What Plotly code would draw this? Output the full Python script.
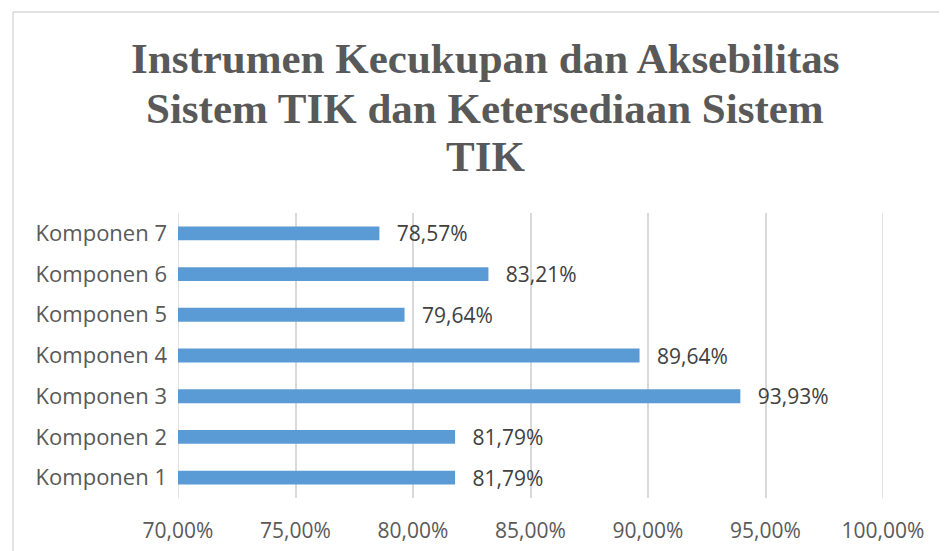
import plotly.graph_objects as go

categories = ["Komponen 1", "Komponen 2", "Komponen 3", "Komponen 4", "Komponen 5", "Komponen 6", "Komponen 7"]
values = [0.8179, 0.8179, 0.9393, 0.8964, 0.7964, 0.8321, 0.7857]
x_ticks = [0.70, 0.75, 0.80, 0.85, 0.90, 0.95, 1.00]
title_lines = ["Instrumen Kecukupan dan Aksebilitas", "Sistem TIK dan Ketersediaan Sistem", "TIK"]

# page has an 8px body margin; figure coords = page coords - 8
W, H = 939, 543
ml, mr, mt, mb = 170, 64, 205, 53
pw, ph = W - ml - mr, H - mt - mb

fig = go.Figure()
fig.add_trace(go.Bar(
    y=categories, x=values, orientation="h",
    marker=dict(color="#5b9bd5", line=dict(width=0)),
    texttemplate="\u00a0\u00a0\u2009%{x:.2%}", textposition="outside",
    constraintext="none",
    textfont=dict(family="Open Sans", size=21, color="#404040"),
    cliponaxis=False,
))

def px_x(px):
    return (px - ml) / pw

def px_y(py):
    return (H - mb - py) / ph

title_tops = [25, 75, 123]
annotations = [
    dict(text=t, showarrow=False, xref="paper", yref="paper",
         x=px_x(477), y=px_y(yt), xanchor="center", yanchor="top",
         font=dict(family="Liberation Serif", size=43, color="#595959", weight="bold"))
    for t, yt in zip(title_lines, title_tops)
]

grid_color = "#d9d9d9"
shapes = [
    dict(type="line", xref="paper", yref="paper",
         x0=px_x(5), x1=px_x(5), y0=px_y(4), y1=px_y(600),
         line=dict(color=grid_color, width=1.5)),
    dict(type="line", xref="paper", yref="paper",
         x0=px_x(5), x1=px_x(1000), y0=px_y(4), y1=px_y(4),
         line=dict(color=grid_color, width=1.5)),
]
# edge gridlines (70% and 100%) which plotly omits at the range boundary
for xv in (x_ticks[0], x_ticks[-1]):
    shapes.append(dict(type="line", xref="x", yref="paper", layer="below",
                       x0=xv, x1=xv, y0=0, y1=1,
                       line=dict(color=grid_color, width=1.5)))

fig.update_layout(
    width=W, height=H,
    margin=dict(l=ml, r=mr, t=mt, b=mb, autoexpand=False),
    paper_bgcolor="white", plot_bgcolor="white",
    separators=", ",
    bargap=0.66,
    showlegend=False,
    xaxis=dict(
        range=[x_ticks[0], x_ticks[-1]], tickvals=x_ticks, tickformat=".2%",
        showgrid=True, gridcolor=grid_color, gridwidth=1.5,
        zeroline=False, showline=False, ticks="",
        tickfont=dict(family="Open Sans", size=21, color="#595959"),
        ticklabelstandoff=18, automargin=False,
    ),
    yaxis=dict(
        categoryorder="array", categoryarray=categories,
        showgrid=False, zeroline=False, showline=False, ticks="",
        tickfont=dict(family="Open Sans", size=22, color="#595959"),
        ticklabelstandoff=10, automargin=False,
    ),
    annotations=annotations,
    shapes=shapes,
)

fig.write_html("out.html")
